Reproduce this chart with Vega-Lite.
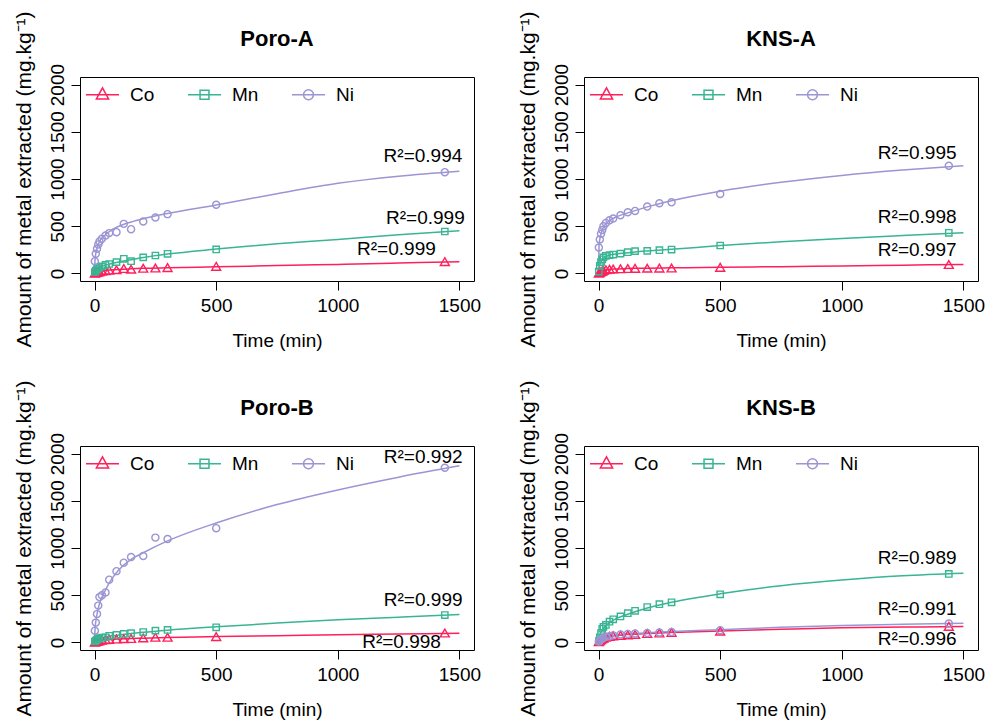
{
"$schema": "https://vega.github.io/schema/vega-lite/v6.json",
"background": "white",
"padding": {"left": 12, "top": 10, "right": 0, "bottom": 0},
"config": {
  "font": "Liberation Sans",
  "view": {"stroke": "black", "strokeWidth": 1},
  "axis": {"grid": false, "domain": false, "tickColor": "black", "tickSize": 9, "tickWidth": 1, "labelFontSize": 19, "labelColor": "black", "titleFontSize": 19, "titleFontWeight": "normal", "titleColor": "black", "labelFlush": false, "labelOverlap": false, "format": "d"},
  "axisX": {"labelPadding": 6, "titlePadding": 16},
  "axisY": {"labelAngle": -90, "labelAlign": "center", "labelBaseline": "alphabetic", "labelPadding": 8, "titlePadding": 14, "titleFontSize": 21},
  "title": {"fontSize": 22, "fontWeight": "bold", "color": "black", "anchor": "middle", "frame": "group"},
  "legend": {"orient": "none", "legendX": 5, "legendY": 0, "direction": "horizontal", "title": null, "labelFontSize": 19, "labelColor": "black", "symbolSize": 1089, "symbolStrokeWidth": 1.5, "labelOffset": 10, "columnPadding": 30, "padding": 0}
},
"datasets": {
"obs": [
{"panel":"Poro-A","metal":"Co","time":1,"value":3},{"panel":"Poro-A","metal":"Co","time":5,"value":8},{"panel":"Poro-A","metal":"Co","time":10,"value":12},{"panel":"Poro-A","metal":"Co","time":15,"value":15},{"panel":"Poro-A","metal":"Co","time":20,"value":20},{"panel":"Poro-A","metal":"Co","time":30,"value":25},{"panel":"Poro-A","metal":"Co","time":45,"value":30},{"panel":"Poro-A","metal":"Co","time":60,"value":35},{"panel":"Poro-A","metal":"Co","time":90,"value":40},{"panel":"Poro-A","metal":"Co","time":120,"value":52},{"panel":"Poro-A","metal":"Co","time":150,"value":45},{"panel":"Poro-A","metal":"Co","time":200,"value":55},{"panel":"Poro-A","metal":"Co","time":250,"value":58},{"panel":"Poro-A","metal":"Co","time":300,"value":62},{"panel":"Poro-A","metal":"Co","time":500,"value":75},{"panel":"Poro-A","metal":"Co","time":1440,"value":125},
{"panel":"Poro-A","metal":"Mn","time":1,"value":15},{"panel":"Poro-A","metal":"Mn","time":5,"value":30},{"panel":"Poro-A","metal":"Mn","time":10,"value":45},{"panel":"Poro-A","metal":"Mn","time":15,"value":55},{"panel":"Poro-A","metal":"Mn","time":20,"value":65},{"panel":"Poro-A","metal":"Mn","time":30,"value":75},{"panel":"Poro-A","metal":"Mn","time":45,"value":90},{"panel":"Poro-A","metal":"Mn","time":60,"value":100},{"panel":"Poro-A","metal":"Mn","time":90,"value":120},{"panel":"Poro-A","metal":"Mn","time":120,"value":155},{"panel":"Poro-A","metal":"Mn","time":150,"value":130},{"panel":"Poro-A","metal":"Mn","time":200,"value":170},{"panel":"Poro-A","metal":"Mn","time":250,"value":190},{"panel":"Poro-A","metal":"Mn","time":300,"value":208},{"panel":"Poro-A","metal":"Mn","time":500,"value":254},{"panel":"Poro-A","metal":"Mn","time":1440,"value":444},
{"panel":"Poro-A","metal":"Ni","time":1,"value":130},{"panel":"Poro-A","metal":"Ni","time":5,"value":208},{"panel":"Poro-A","metal":"Ni","time":10,"value":261},{"panel":"Poro-A","metal":"Ni","time":15,"value":307},{"panel":"Poro-A","metal":"Ni","time":20,"value":339},{"panel":"Poro-A","metal":"Ni","time":30,"value":367},{"panel":"Poro-A","metal":"Ni","time":45,"value":402},{"panel":"Poro-A","metal":"Ni","time":60,"value":427},{"panel":"Poro-A","metal":"Ni","time":90,"value":437},{"panel":"Poro-A","metal":"Ni","time":120,"value":525},{"panel":"Poro-A","metal":"Ni","time":150,"value":469},{"panel":"Poro-A","metal":"Ni","time":200,"value":550},{"panel":"Poro-A","metal":"Ni","time":250,"value":592},{"panel":"Poro-A","metal":"Ni","time":300,"value":628},{"panel":"Poro-A","metal":"Ni","time":500,"value":727},{"panel":"Poro-A","metal":"Ni","time":1440,"value":1072},
{"panel":"KNS-A","metal":"Co","time":1,"value":3},{"panel":"KNS-A","metal":"Co","time":5,"value":10},{"panel":"KNS-A","metal":"Co","time":10,"value":18},{"panel":"KNS-A","metal":"Co","time":15,"value":25},{"panel":"KNS-A","metal":"Co","time":20,"value":32},{"panel":"KNS-A","metal":"Co","time":30,"value":40},{"panel":"KNS-A","metal":"Co","time":45,"value":45},{"panel":"KNS-A","metal":"Co","time":60,"value":48},{"panel":"KNS-A","metal":"Co","time":90,"value":50},{"panel":"KNS-A","metal":"Co","time":120,"value":52},{"panel":"KNS-A","metal":"Co","time":150,"value":54},{"panel":"KNS-A","metal":"Co","time":200,"value":56},{"panel":"KNS-A","metal":"Co","time":250,"value":57},{"panel":"KNS-A","metal":"Co","time":300,"value":58},{"panel":"KNS-A","metal":"Co","time":500,"value":65},{"panel":"KNS-A","metal":"Co","time":1440,"value":95},
{"panel":"KNS-A","metal":"Mn","time":1,"value":20},{"panel":"KNS-A","metal":"Mn","time":5,"value":80},{"panel":"KNS-A","metal":"Mn","time":10,"value":120},{"panel":"KNS-A","metal":"Mn","time":15,"value":150},{"panel":"KNS-A","metal":"Mn","time":20,"value":170},{"panel":"KNS-A","metal":"Mn","time":30,"value":185},{"panel":"KNS-A","metal":"Mn","time":45,"value":195},{"panel":"KNS-A","metal":"Mn","time":60,"value":200},{"panel":"KNS-A","metal":"Mn","time":90,"value":210},{"panel":"KNS-A","metal":"Mn","time":120,"value":225},{"panel":"KNS-A","metal":"Mn","time":150,"value":236},{"panel":"KNS-A","metal":"Mn","time":200,"value":239},{"panel":"KNS-A","metal":"Mn","time":250,"value":246},{"panel":"KNS-A","metal":"Mn","time":300,"value":253},{"panel":"KNS-A","metal":"Mn","time":500,"value":296},{"panel":"KNS-A","metal":"Mn","time":1440,"value":430},
{"panel":"KNS-A","metal":"Ni","time":1,"value":275},{"panel":"KNS-A","metal":"Ni","time":5,"value":360},{"panel":"KNS-A","metal":"Ni","time":10,"value":420},{"panel":"KNS-A","metal":"Ni","time":15,"value":460},{"panel":"KNS-A","metal":"Ni","time":20,"value":500},{"panel":"KNS-A","metal":"Ni","time":30,"value":535},{"panel":"KNS-A","metal":"Ni","time":45,"value":563},{"panel":"KNS-A","metal":"Ni","time":60,"value":581},{"panel":"KNS-A","metal":"Ni","time":90,"value":616},{"panel":"KNS-A","metal":"Ni","time":120,"value":648},{"panel":"KNS-A","metal":"Ni","time":150,"value":662},{"panel":"KNS-A","metal":"Ni","time":200,"value":708},{"panel":"KNS-A","metal":"Ni","time":250,"value":743},{"panel":"KNS-A","metal":"Ni","time":300,"value":753},{"panel":"KNS-A","metal":"Ni","time":500,"value":841},{"panel":"KNS-A","metal":"Ni","time":1440,"value":1140},
{"panel":"Poro-B","metal":"Co","time":1,"value":3},{"panel":"Poro-B","metal":"Co","time":5,"value":8},{"panel":"Poro-B","metal":"Co","time":10,"value":12},{"panel":"Poro-B","metal":"Co","time":15,"value":16},{"panel":"Poro-B","metal":"Co","time":20,"value":20},{"panel":"Poro-B","metal":"Co","time":30,"value":25},{"panel":"Poro-B","metal":"Co","time":45,"value":30},{"panel":"Poro-B","metal":"Co","time":60,"value":33},{"panel":"Poro-B","metal":"Co","time":90,"value":36},{"panel":"Poro-B","metal":"Co","time":120,"value":40},{"panel":"Poro-B","metal":"Co","time":150,"value":42},{"panel":"Poro-B","metal":"Co","time":200,"value":48},{"panel":"Poro-B","metal":"Co","time":250,"value":55},{"panel":"Poro-B","metal":"Co","time":300,"value":55},{"panel":"Poro-B","metal":"Co","time":500,"value":62},{"panel":"Poro-B","metal":"Co","time":1440,"value":100},
{"panel":"Poro-B","metal":"Mn","time":1,"value":10},{"panel":"Poro-B","metal":"Mn","time":5,"value":20},{"panel":"Poro-B","metal":"Mn","time":10,"value":30},{"panel":"Poro-B","metal":"Mn","time":15,"value":38},{"panel":"Poro-B","metal":"Mn","time":20,"value":45},{"panel":"Poro-B","metal":"Mn","time":30,"value":50},{"panel":"Poro-B","metal":"Mn","time":45,"value":55},{"panel":"Poro-B","metal":"Mn","time":60,"value":70},{"panel":"Poro-B","metal":"Mn","time":90,"value":80},{"panel":"Poro-B","metal":"Mn","time":120,"value":90},{"panel":"Poro-B","metal":"Mn","time":150,"value":98},{"panel":"Poro-B","metal":"Mn","time":200,"value":110},{"panel":"Poro-B","metal":"Mn","time":250,"value":125},{"panel":"Poro-B","metal":"Mn","time":300,"value":132},{"panel":"Poro-B","metal":"Mn","time":500,"value":160},{"panel":"Poro-B","metal":"Mn","time":1440,"value":290},
{"panel":"Poro-B","metal":"Ni","time":1,"value":125},{"panel":"Poro-B","metal":"Ni","time":5,"value":210},{"panel":"Poro-B","metal":"Ni","time":10,"value":300},{"panel":"Poro-B","metal":"Ni","time":15,"value":390},{"panel":"Poro-B","metal":"Ni","time":20,"value":480},{"panel":"Poro-B","metal":"Ni","time":30,"value":500},{"panel":"Poro-B","metal":"Ni","time":45,"value":530},{"panel":"Poro-B","metal":"Ni","time":60,"value":665},{"panel":"Poro-B","metal":"Ni","time":90,"value":755},{"panel":"Poro-B","metal":"Ni","time":120,"value":845},{"panel":"Poro-B","metal":"Ni","time":150,"value":905},{"panel":"Poro-B","metal":"Ni","time":200,"value":915},{"panel":"Poro-B","metal":"Ni","time":250,"value":1110},{"panel":"Poro-B","metal":"Ni","time":300,"value":1095},{"panel":"Poro-B","metal":"Ni","time":500,"value":1210},{"panel":"Poro-B","metal":"Ni","time":1440,"value":1850},
{"panel":"KNS-B","metal":"Co","time":1,"value":8},{"panel":"KNS-B","metal":"Co","time":5,"value":20},{"panel":"KNS-B","metal":"Co","time":10,"value":30},{"panel":"KNS-B","metal":"Co","time":15,"value":40},{"panel":"KNS-B","metal":"Co","time":20,"value":45},{"panel":"KNS-B","metal":"Co","time":30,"value":55},{"panel":"KNS-B","metal":"Co","time":45,"value":65},{"panel":"KNS-B","metal":"Co","time":60,"value":70},{"panel":"KNS-B","metal":"Co","time":90,"value":75},{"panel":"KNS-B","metal":"Co","time":120,"value":80},{"panel":"KNS-B","metal":"Co","time":150,"value":85},{"panel":"KNS-B","metal":"Co","time":200,"value":95},{"panel":"KNS-B","metal":"Co","time":250,"value":100},{"panel":"KNS-B","metal":"Co","time":300,"value":105},{"panel":"KNS-B","metal":"Co","time":500,"value":120},{"panel":"KNS-B","metal":"Co","time":1440,"value":170},
{"panel":"KNS-B","metal":"Mn","time":1,"value":15},{"panel":"KNS-B","metal":"Mn","time":5,"value":55},{"panel":"KNS-B","metal":"Mn","time":10,"value":100},{"panel":"KNS-B","metal":"Mn","time":15,"value":145},{"panel":"KNS-B","metal":"Mn","time":20,"value":165},{"panel":"KNS-B","metal":"Mn","time":30,"value":185},{"panel":"KNS-B","metal":"Mn","time":45,"value":220},{"panel":"KNS-B","metal":"Mn","time":60,"value":245},{"panel":"KNS-B","metal":"Mn","time":90,"value":275},{"panel":"KNS-B","metal":"Mn","time":120,"value":310},{"panel":"KNS-B","metal":"Mn","time":150,"value":335},{"panel":"KNS-B","metal":"Mn","time":200,"value":375},{"panel":"KNS-B","metal":"Mn","time":250,"value":405},{"panel":"KNS-B","metal":"Mn","time":300,"value":425},{"panel":"KNS-B","metal":"Mn","time":500,"value":510},{"panel":"KNS-B","metal":"Mn","time":1440,"value":725},
{"panel":"KNS-B","metal":"Ni","time":1,"value":10},{"panel":"KNS-B","metal":"Ni","time":5,"value":20},{"panel":"KNS-B","metal":"Ni","time":10,"value":30},{"panel":"KNS-B","metal":"Ni","time":15,"value":40},{"panel":"KNS-B","metal":"Ni","time":20,"value":50},{"panel":"KNS-B","metal":"Ni","time":30,"value":60},{"panel":"KNS-B","metal":"Ni","time":45,"value":65},{"panel":"KNS-B","metal":"Ni","time":60,"value":75},{"panel":"KNS-B","metal":"Ni","time":90,"value":85},{"panel":"KNS-B","metal":"Ni","time":120,"value":90},{"panel":"KNS-B","metal":"Ni","time":150,"value":95},{"panel":"KNS-B","metal":"Ni","time":200,"value":100},{"panel":"KNS-B","metal":"Ni","time":250,"value":105},{"panel":"KNS-B","metal":"Ni","time":300,"value":110},{"panel":"KNS-B","metal":"Ni","time":500,"value":130},{"panel":"KNS-B","metal":"Ni","time":1440,"value":200}
],
"fit": [
{"panel":"Poro-A","metal":"Co","time":0,"value":-15},{"panel":"Poro-A","metal":"Co","time":2,"value":-3},{"panel":"Poro-A","metal":"Co","time":5,"value":5},{"panel":"Poro-A","metal":"Co","time":10,"value":12},{"panel":"Poro-A","metal":"Co","time":20,"value":20},{"panel":"Poro-A","metal":"Co","time":40,"value":30},{"panel":"Poro-A","metal":"Co","time":70,"value":38},{"panel":"Poro-A","metal":"Co","time":100,"value":43},{"panel":"Poro-A","metal":"Co","time":150,"value":49},{"panel":"Poro-A","metal":"Co","time":200,"value":54},{"panel":"Poro-A","metal":"Co","time":300,"value":60},{"panel":"Poro-A","metal":"Co","time":500,"value":70},{"panel":"Poro-A","metal":"Co","time":750,"value":83},{"panel":"Poro-A","metal":"Co","time":1000,"value":96},{"panel":"Poro-A","metal":"Co","time":1250,"value":110},{"panel":"Poro-A","metal":"Co","time":1500,"value":123},
{"panel":"Poro-A","metal":"Mn","time":0,"value":0},{"panel":"Poro-A","metal":"Mn","time":2,"value":15},{"panel":"Poro-A","metal":"Mn","time":5,"value":30},{"panel":"Poro-A","metal":"Mn","time":10,"value":45},{"panel":"Poro-A","metal":"Mn","time":20,"value":62},{"panel":"Poro-A","metal":"Mn","time":40,"value":85},{"panel":"Poro-A","metal":"Mn","time":70,"value":105},{"panel":"Poro-A","metal":"Mn","time":100,"value":122},{"panel":"Poro-A","metal":"Mn","time":150,"value":145},{"panel":"Poro-A","metal":"Mn","time":200,"value":168},{"panel":"Poro-A","metal":"Mn","time":300,"value":205},{"panel":"Poro-A","metal":"Mn","time":500,"value":258},{"panel":"Poro-A","metal":"Mn","time":750,"value":315},{"panel":"Poro-A","metal":"Mn","time":1000,"value":360},{"panel":"Poro-A","metal":"Mn","time":1250,"value":410},{"panel":"Poro-A","metal":"Mn","time":1500,"value":452},
{"panel":"Poro-A","metal":"Ni","time":0,"value":0},{"panel":"Poro-A","metal":"Ni","time":2,"value":150},{"panel":"Poro-A","metal":"Ni","time":5,"value":210},{"panel":"Poro-A","metal":"Ni","time":10,"value":265},{"panel":"Poro-A","metal":"Ni","time":20,"value":335},{"panel":"Poro-A","metal":"Ni","time":40,"value":400},{"panel":"Poro-A","metal":"Ni","time":70,"value":460},{"panel":"Poro-A","metal":"Ni","time":100,"value":500},{"panel":"Poro-A","metal":"Ni","time":150,"value":545},{"panel":"Poro-A","metal":"Ni","time":200,"value":580},{"panel":"Poro-A","metal":"Ni","time":300,"value":635},{"panel":"Poro-A","metal":"Ni","time":500,"value":725},{"panel":"Poro-A","metal":"Ni","time":750,"value":845},{"panel":"Poro-A","metal":"Ni","time":1000,"value":955},{"panel":"Poro-A","metal":"Ni","time":1250,"value":1030},{"panel":"Poro-A","metal":"Ni","time":1500,"value":1083},
{"panel":"KNS-A","metal":"Co","time":0,"value":-15},{"panel":"KNS-A","metal":"Co","time":2,"value":-5},{"panel":"KNS-A","metal":"Co","time":5,"value":5},{"panel":"KNS-A","metal":"Co","time":10,"value":18},{"panel":"KNS-A","metal":"Co","time":20,"value":32},{"panel":"KNS-A","metal":"Co","time":40,"value":43},{"panel":"KNS-A","metal":"Co","time":70,"value":48},{"panel":"KNS-A","metal":"Co","time":100,"value":51},{"panel":"KNS-A","metal":"Co","time":150,"value":54},{"panel":"KNS-A","metal":"Co","time":200,"value":56},{"panel":"KNS-A","metal":"Co","time":300,"value":59},{"panel":"KNS-A","metal":"Co","time":500,"value":65},{"panel":"KNS-A","metal":"Co","time":750,"value":72},{"panel":"KNS-A","metal":"Co","time":1000,"value":80},{"panel":"KNS-A","metal":"Co","time":1250,"value":88},{"panel":"KNS-A","metal":"Co","time":1500,"value":95},
{"panel":"KNS-A","metal":"Mn","time":0,"value":0},{"panel":"KNS-A","metal":"Mn","time":2,"value":50},{"panel":"KNS-A","metal":"Mn","time":5,"value":90},{"panel":"KNS-A","metal":"Mn","time":10,"value":125},{"panel":"KNS-A","metal":"Mn","time":20,"value":160},{"panel":"KNS-A","metal":"Mn","time":40,"value":190},{"panel":"KNS-A","metal":"Mn","time":70,"value":205},{"panel":"KNS-A","metal":"Mn","time":100,"value":215},{"panel":"KNS-A","metal":"Mn","time":150,"value":228},{"panel":"KNS-A","metal":"Mn","time":200,"value":238},{"panel":"KNS-A","metal":"Mn","time":300,"value":255},{"panel":"KNS-A","metal":"Mn","time":500,"value":295},{"panel":"KNS-A","metal":"Mn","time":750,"value":335},{"panel":"KNS-A","metal":"Mn","time":1000,"value":370},{"panel":"KNS-A","metal":"Mn","time":1250,"value":402},{"panel":"KNS-A","metal":"Mn","time":1500,"value":432},
{"panel":"KNS-A","metal":"Ni","time":0,"value":0},{"panel":"KNS-A","metal":"Ni","time":2,"value":300},{"panel":"KNS-A","metal":"Ni","time":5,"value":360},{"panel":"KNS-A","metal":"Ni","time":10,"value":420},{"panel":"KNS-A","metal":"Ni","time":20,"value":490},{"panel":"KNS-A","metal":"Ni","time":40,"value":550},{"panel":"KNS-A","metal":"Ni","time":70,"value":595},{"panel":"KNS-A","metal":"Ni","time":100,"value":625},{"panel":"KNS-A","metal":"Ni","time":150,"value":665},{"panel":"KNS-A","metal":"Ni","time":200,"value":705},{"panel":"KNS-A","metal":"Ni","time":300,"value":770},{"panel":"KNS-A","metal":"Ni","time":500,"value":870},{"panel":"KNS-A","metal":"Ni","time":750,"value":965},{"panel":"KNS-A","metal":"Ni","time":1000,"value":1038},{"panel":"KNS-A","metal":"Ni","time":1250,"value":1095},{"panel":"KNS-A","metal":"Ni","time":1500,"value":1140},
{"panel":"Poro-B","metal":"Co","time":0,"value":-15},{"panel":"Poro-B","metal":"Co","time":2,"value":-5},{"panel":"Poro-B","metal":"Co","time":5,"value":3},{"panel":"Poro-B","metal":"Co","time":10,"value":10},{"panel":"Poro-B","metal":"Co","time":20,"value":18},{"panel":"Poro-B","metal":"Co","time":40,"value":26},{"panel":"Poro-B","metal":"Co","time":70,"value":32},{"panel":"Poro-B","metal":"Co","time":100,"value":36},{"panel":"Poro-B","metal":"Co","time":150,"value":41},{"panel":"Poro-B","metal":"Co","time":200,"value":45},{"panel":"Poro-B","metal":"Co","time":300,"value":52},{"panel":"Poro-B","metal":"Co","time":500,"value":62},{"panel":"Poro-B","metal":"Co","time":750,"value":72},{"panel":"Poro-B","metal":"Co","time":1000,"value":82},{"panel":"Poro-B","metal":"Co","time":1250,"value":90},{"panel":"Poro-B","metal":"Co","time":1500,"value":97},
{"panel":"Poro-B","metal":"Mn","time":0,"value":0},{"panel":"Poro-B","metal":"Mn","time":2,"value":12},{"panel":"Poro-B","metal":"Mn","time":5,"value":20},{"panel":"Poro-B","metal":"Mn","time":10,"value":30},{"panel":"Poro-B","metal":"Mn","time":20,"value":40},{"panel":"Poro-B","metal":"Mn","time":40,"value":55},{"panel":"Poro-B","metal":"Mn","time":70,"value":70},{"panel":"Poro-B","metal":"Mn","time":100,"value":80},{"panel":"Poro-B","metal":"Mn","time":150,"value":95},{"panel":"Poro-B","metal":"Mn","time":200,"value":108},{"panel":"Poro-B","metal":"Mn","time":300,"value":130},{"panel":"Poro-B","metal":"Mn","time":500,"value":165},{"panel":"Poro-B","metal":"Mn","time":750,"value":205},{"panel":"Poro-B","metal":"Mn","time":1000,"value":240},{"panel":"Poro-B","metal":"Mn","time":1250,"value":268},{"panel":"Poro-B","metal":"Mn","time":1500,"value":295},
{"panel":"Poro-B","metal":"Ni","time":0,"value":0},{"panel":"Poro-B","metal":"Ni","time":2,"value":150},{"panel":"Poro-B","metal":"Ni","time":5,"value":220},{"panel":"Poro-B","metal":"Ni","time":10,"value":300},{"panel":"Poro-B","metal":"Ni","time":20,"value":410},{"panel":"Poro-B","metal":"Ni","time":40,"value":530},{"panel":"Poro-B","metal":"Ni","time":70,"value":670},{"panel":"Poro-B","metal":"Ni","time":100,"value":770},{"panel":"Poro-B","metal":"Ni","time":150,"value":880},{"panel":"Poro-B","metal":"Ni","time":200,"value":950},{"panel":"Poro-B","metal":"Ni","time":300,"value":1075},{"panel":"Poro-B","metal":"Ni","time":500,"value":1265},{"panel":"Poro-B","metal":"Ni","time":750,"value":1460},{"panel":"Poro-B","metal":"Ni","time":1000,"value":1615},{"panel":"Poro-B","metal":"Ni","time":1250,"value":1750},{"panel":"Poro-B","metal":"Ni","time":1500,"value":1870},
{"panel":"KNS-B","metal":"Co","time":0,"value":-10},{"panel":"KNS-B","metal":"Co","time":2,"value":5},{"panel":"KNS-B","metal":"Co","time":5,"value":18},{"panel":"KNS-B","metal":"Co","time":10,"value":30},{"panel":"KNS-B","metal":"Co","time":20,"value":45},{"panel":"KNS-B","metal":"Co","time":40,"value":60},{"panel":"KNS-B","metal":"Co","time":70,"value":72},{"panel":"KNS-B","metal":"Co","time":100,"value":80},{"panel":"KNS-B","metal":"Co","time":150,"value":88},{"panel":"KNS-B","metal":"Co","time":200,"value":95},{"panel":"KNS-B","metal":"Co","time":300,"value":105},{"panel":"KNS-B","metal":"Co","time":500,"value":122},{"panel":"KNS-B","metal":"Co","time":750,"value":140},{"panel":"KNS-B","metal":"Co","time":1000,"value":155},{"panel":"KNS-B","metal":"Co","time":1250,"value":163},{"panel":"KNS-B","metal":"Co","time":1500,"value":168},
{"panel":"KNS-B","metal":"Mn","time":0,"value":0},{"panel":"KNS-B","metal":"Mn","time":2,"value":50},{"panel":"KNS-B","metal":"Mn","time":5,"value":80},{"panel":"KNS-B","metal":"Mn","time":10,"value":110},{"panel":"KNS-B","metal":"Mn","time":20,"value":150},{"panel":"KNS-B","metal":"Mn","time":40,"value":200},{"panel":"KNS-B","metal":"Mn","time":70,"value":250},{"panel":"KNS-B","metal":"Mn","time":100,"value":280},{"panel":"KNS-B","metal":"Mn","time":150,"value":325},{"panel":"KNS-B","metal":"Mn","time":200,"value":365},{"panel":"KNS-B","metal":"Mn","time":300,"value":425},{"panel":"KNS-B","metal":"Mn","time":500,"value":515},{"panel":"KNS-B","metal":"Mn","time":750,"value":600},{"panel":"KNS-B","metal":"Mn","time":1000,"value":660},{"panel":"KNS-B","metal":"Mn","time":1250,"value":705},{"panel":"KNS-B","metal":"Mn","time":1500,"value":732},
{"panel":"KNS-B","metal":"Ni","time":0,"value":0},{"panel":"KNS-B","metal":"Ni","time":2,"value":15},{"panel":"KNS-B","metal":"Ni","time":5,"value":25},{"panel":"KNS-B","metal":"Ni","time":10,"value":35},{"panel":"KNS-B","metal":"Ni","time":20,"value":50},{"panel":"KNS-B","metal":"Ni","time":40,"value":65},{"panel":"KNS-B","metal":"Ni","time":70,"value":78},{"panel":"KNS-B","metal":"Ni","time":100,"value":88},{"panel":"KNS-B","metal":"Ni","time":150,"value":96},{"panel":"KNS-B","metal":"Ni","time":200,"value":103},{"panel":"KNS-B","metal":"Ni","time":300,"value":115},{"panel":"KNS-B","metal":"Ni","time":500,"value":135},{"panel":"KNS-B","metal":"Ni","time":750,"value":160},{"panel":"KNS-B","metal":"Ni","time":1000,"value":180},{"panel":"KNS-B","metal":"Ni","time":1250,"value":193},{"panel":"KNS-B","metal":"Ni","time":1500,"value":202}
],
"r2": [
{"panel":"Poro-A","metal":"Ni","time":1350,"value":1241,"label":"R²=0.994"},
{"panel":"Poro-A","metal":"Mn","time":1360,"value":589,"label":"R²=0.999"},
{"panel":"Poro-A","metal":"Co","time":1241,"value":254,"label":"R²=0.999"},
{"panel":"KNS-A","metal":"Ni","time":1310,"value":1278,"label":"R²=0.995"},
{"panel":"KNS-A","metal":"Mn","time":1310,"value":602,"label":"R²=0.998"},
{"panel":"KNS-A","metal":"Co","time":1310,"value":253,"label":"R²=0.997"},
{"panel":"Poro-B","metal":"Ni","time":1351,"value":1964,"label":"R²=0.992"},
{"panel":"Poro-B","metal":"Mn","time":1351,"value":450,"label":"R²=0.999"},
{"panel":"Poro-B","metal":"Co","time":1262,"value":4,"label":"R²=0.998"},
{"panel":"KNS-B","metal":"Mn","time":1310,"value":894,"label":"R²=0.989"},
{"panel":"KNS-B","metal":"Ni","time":1310,"value":356,"label":"R²=0.991"},
{"panel":"KNS-B","metal":"Co","time":1310,"value":39,"label":"R²=0.996"}
]
},
"columns": 2,
"spacing": {"row": 28, "column": 34},
"resolve": {"scale": {"color": "independent"}, "legend": {"color": "independent"}},
"concat": [
{
 "title": {"text": "Poro-A", "offset": -40},
 "width": 394, "height": 204,
 "encoding": {
  "x": {"field": "time", "type": "quantitative", "scale": {"domain": [-60, 1560], "nice": false, "zero": false}, "axis": {"values": [0, 500, 1000, 1500], "title": "Time (min)"}},
  "y": {"field": "value", "type": "quantitative", "scale": {"domain": [-80, 2080], "nice": false, "zero": false}, "axis": {"values": [0, 500, 1000, 1500, 2000], "title": "Amount of metal extracted (mg.kg⁻¹)"}},
  "color": {"field": "metal", "type": "nominal", "scale": {"domain": ["Co", "Mn", "Ni"], "range": ["#ff1f5b", "#38b593", "#9b95d4"]},
   "legend": {"encode": {"symbols": {"update": {"shape": {"signal": "datum.value === 'Co' ? 'M-1,0H1M0,-0.42L0.37,0.25H-0.37Z' : datum.value === 'Mn' ? 'M-1,0H1M-0.27,-0.27H0.27V0.27H-0.27Z' : 'M-1,0H1M0.3,0A0.3,0.3 0 1,1 -0.3,0A0.3,0.3 0 1,1 0.3,0'"}, "fill": {"value": "transparent"}, "strokeWidth": {"value": 1.5}}}}}}
 },
 "layer": [
  {"data": {"name": "fit"}, "transform": [{"filter": "datum.panel === 'Poro-A'"}], "mark": {"type": "line", "strokeWidth": 1.5, "interpolate": "monotone"}},
  {"data": {"name": "obs"}, "transform": [{"filter": "datum.panel === 'Poro-A' && datum.metal === 'Co'"}], "mark": {"type": "point", "shape": "triangle-up", "size": 80, "filled": false, "strokeWidth": 1.4, "opacity": 1}},
  {"data": {"name": "obs"}, "transform": [{"filter": "datum.panel === 'Poro-A' && datum.metal === 'Mn'"}], "mark": {"type": "point", "shape": "square", "size": 40, "filled": false, "strokeWidth": 1.4, "opacity": 1}},
  {"data": {"name": "obs"}, "transform": [{"filter": "datum.panel === 'Poro-A' && datum.metal === 'Ni'"}], "mark": {"type": "point", "shape": "circle", "size": 50, "filled": false, "strokeWidth": 1.4, "opacity": 1}},
  {"data": {"name": "r2"}, "transform": [{"filter": "datum.panel === 'Poro-A'"}], "mark": {"type": "text", "fontSize": 19, "align": "center", "baseline": "middle"},
   "encoding": {"text": {"field": "label"}, "color": {"value": "black"}}}
 ]
},
{
 "title": {"text": "KNS-A", "offset": -40},
 "width": 394, "height": 204,
 "encoding": {
  "x": {"field": "time", "type": "quantitative", "scale": {"domain": [-60, 1560], "nice": false, "zero": false}, "axis": {"values": [0, 500, 1000, 1500], "title": "Time (min)"}},
  "y": {"field": "value", "type": "quantitative", "scale": {"domain": [-80, 2080], "nice": false, "zero": false}, "axis": {"values": [0, 500, 1000, 1500, 2000], "title": "Amount of metal extracted (mg.kg⁻¹)"}},
  "color": {"field": "metal", "type": "nominal", "scale": {"domain": ["Co", "Mn", "Ni"], "range": ["#ff1f5b", "#38b593", "#9b95d4"]},
   "legend": {"encode": {"symbols": {"update": {"shape": {"signal": "datum.value === 'Co' ? 'M-1,0H1M0,-0.42L0.37,0.25H-0.37Z' : datum.value === 'Mn' ? 'M-1,0H1M-0.27,-0.27H0.27V0.27H-0.27Z' : 'M-1,0H1M0.3,0A0.3,0.3 0 1,1 -0.3,0A0.3,0.3 0 1,1 0.3,0'"}, "fill": {"value": "transparent"}, "strokeWidth": {"value": 1.5}}}}}}
 },
 "layer": [
  {"data": {"name": "fit"}, "transform": [{"filter": "datum.panel === 'KNS-A'"}], "mark": {"type": "line", "strokeWidth": 1.5, "interpolate": "monotone"}},
  {"data": {"name": "obs"}, "transform": [{"filter": "datum.panel === 'KNS-A' && datum.metal === 'Co'"}], "mark": {"type": "point", "shape": "triangle-up", "size": 80, "filled": false, "strokeWidth": 1.4, "opacity": 1}},
  {"data": {"name": "obs"}, "transform": [{"filter": "datum.panel === 'KNS-A' && datum.metal === 'Mn'"}], "mark": {"type": "point", "shape": "square", "size": 40, "filled": false, "strokeWidth": 1.4, "opacity": 1}},
  {"data": {"name": "obs"}, "transform": [{"filter": "datum.panel === 'KNS-A' && datum.metal === 'Ni'"}], "mark": {"type": "point", "shape": "circle", "size": 50, "filled": false, "strokeWidth": 1.4, "opacity": 1}},
  {"data": {"name": "r2"}, "transform": [{"filter": "datum.panel === 'KNS-A'"}], "mark": {"type": "text", "fontSize": 19, "align": "center", "baseline": "middle"},
   "encoding": {"text": {"field": "label"}, "color": {"value": "black"}}}
 ]
},
{
 "title": {"text": "Poro-B", "offset": -40},
 "width": 394, "height": 204,
 "encoding": {
  "x": {"field": "time", "type": "quantitative", "scale": {"domain": [-60, 1560], "nice": false, "zero": false}, "axis": {"values": [0, 500, 1000, 1500], "title": "Time (min)"}},
  "y": {"field": "value", "type": "quantitative", "scale": {"domain": [-80, 2080], "nice": false, "zero": false}, "axis": {"values": [0, 500, 1000, 1500, 2000], "title": "Amount of metal extracted (mg.kg⁻¹)"}},
  "color": {"field": "metal", "type": "nominal", "scale": {"domain": ["Co", "Mn", "Ni"], "range": ["#ff1f5b", "#38b593", "#9b95d4"]},
   "legend": {"encode": {"symbols": {"update": {"shape": {"signal": "datum.value === 'Co' ? 'M-1,0H1M0,-0.42L0.37,0.25H-0.37Z' : datum.value === 'Mn' ? 'M-1,0H1M-0.27,-0.27H0.27V0.27H-0.27Z' : 'M-1,0H1M0.3,0A0.3,0.3 0 1,1 -0.3,0A0.3,0.3 0 1,1 0.3,0'"}, "fill": {"value": "transparent"}, "strokeWidth": {"value": 1.5}}}}}}
 },
 "layer": [
  {"data": {"name": "fit"}, "transform": [{"filter": "datum.panel === 'Poro-B'"}], "mark": {"type": "line", "strokeWidth": 1.5, "interpolate": "monotone"}},
  {"data": {"name": "obs"}, "transform": [{"filter": "datum.panel === 'Poro-B' && datum.metal === 'Co'"}], "mark": {"type": "point", "shape": "triangle-up", "size": 80, "filled": false, "strokeWidth": 1.4, "opacity": 1}},
  {"data": {"name": "obs"}, "transform": [{"filter": "datum.panel === 'Poro-B' && datum.metal === 'Mn'"}], "mark": {"type": "point", "shape": "square", "size": 40, "filled": false, "strokeWidth": 1.4, "opacity": 1}},
  {"data": {"name": "obs"}, "transform": [{"filter": "datum.panel === 'Poro-B' && datum.metal === 'Ni'"}], "mark": {"type": "point", "shape": "circle", "size": 50, "filled": false, "strokeWidth": 1.4, "opacity": 1}},
  {"data": {"name": "r2"}, "transform": [{"filter": "datum.panel === 'Poro-B'"}], "mark": {"type": "text", "fontSize": 19, "align": "center", "baseline": "middle"},
   "encoding": {"text": {"field": "label"}, "color": {"value": "black"}}}
 ]
},
{
 "title": {"text": "KNS-B", "offset": -40},
 "width": 394, "height": 204,
 "encoding": {
  "x": {"field": "time", "type": "quantitative", "scale": {"domain": [-60, 1560], "nice": false, "zero": false}, "axis": {"values": [0, 500, 1000, 1500], "title": "Time (min)"}},
  "y": {"field": "value", "type": "quantitative", "scale": {"domain": [-80, 2080], "nice": false, "zero": false}, "axis": {"values": [0, 500, 1000, 1500, 2000], "title": "Amount of metal extracted (mg.kg⁻¹)"}},
  "color": {"field": "metal", "type": "nominal", "scale": {"domain": ["Co", "Mn", "Ni"], "range": ["#ff1f5b", "#38b593", "#9b95d4"]},
   "legend": {"encode": {"symbols": {"update": {"shape": {"signal": "datum.value === 'Co' ? 'M-1,0H1M0,-0.42L0.37,0.25H-0.37Z' : datum.value === 'Mn' ? 'M-1,0H1M-0.27,-0.27H0.27V0.27H-0.27Z' : 'M-1,0H1M0.3,0A0.3,0.3 0 1,1 -0.3,0A0.3,0.3 0 1,1 0.3,0'"}, "fill": {"value": "transparent"}, "strokeWidth": {"value": 1.5}}}}}}
 },
 "layer": [
  {"data": {"name": "fit"}, "transform": [{"filter": "datum.panel === 'KNS-B'"}], "mark": {"type": "line", "strokeWidth": 1.5, "interpolate": "monotone"}},
  {"data": {"name": "obs"}, "transform": [{"filter": "datum.panel === 'KNS-B' && datum.metal === 'Co'"}], "mark": {"type": "point", "shape": "triangle-up", "size": 80, "filled": false, "strokeWidth": 1.4, "opacity": 1}},
  {"data": {"name": "obs"}, "transform": [{"filter": "datum.panel === 'KNS-B' && datum.metal === 'Mn'"}], "mark": {"type": "point", "shape": "square", "size": 40, "filled": false, "strokeWidth": 1.4, "opacity": 1}},
  {"data": {"name": "obs"}, "transform": [{"filter": "datum.panel === 'KNS-B' && datum.metal === 'Ni'"}], "mark": {"type": "point", "shape": "circle", "size": 50, "filled": false, "strokeWidth": 1.4, "opacity": 1}},
  {"data": {"name": "r2"}, "transform": [{"filter": "datum.panel === 'KNS-B'"}], "mark": {"type": "text", "fontSize": 19, "align": "center", "baseline": "middle"},
   "encoding": {"text": {"field": "label"}, "color": {"value": "black"}}}
 ]
}
]
}
